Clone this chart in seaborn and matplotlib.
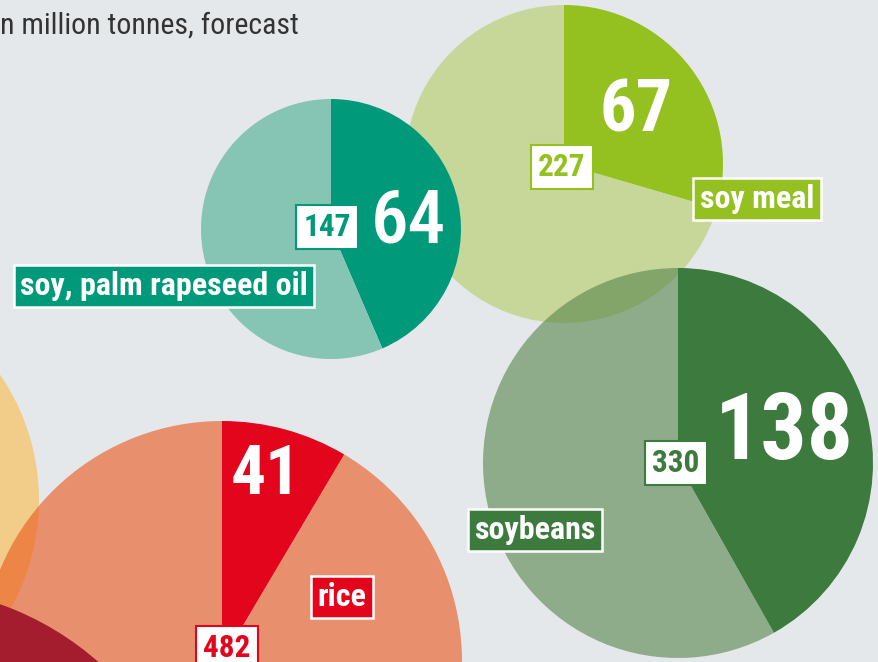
import matplotlib
matplotlib.use("Agg")
import matplotlib.pyplot as plt
import seaborn as sns

# ---- data ----
crops = ["soy meal", "soy, palm rapeseed oil", "soybeans", "rice"]
totals = [227, 147, 330, 482]
highlights = [67, 64, 138, 41]
title = "n million tonnes, forecast"

# ---- layout (image pixel coords, y down) ----
W, H = 879, 662
centers = [(564, 164), (331, 229), (678, 463), (222, 661)]
radii = [159, 130, 195, 240]
dark_cols = ["#94c11f", "#009a7b", "#3c7a3e", "#e3051b"]
light_cols = ["#b5cd64", "#86c4b4", "#56844a", "#eb551b"]
light_alpha = [0.6, 1.0, 0.6, 0.6]
pie_z = [4, 5, 6, 2]
# neighbouring circles only partly in view
side_centers = [(-182, 500), (-100, 887)]
side_radii = [221, 300]
side_cols = ["#f2cd8a", "#a31d2e"]
side_z = [1, 3]

# label positions
name_pos = [(757, 199), (164, 286), (535, 530), (342, 597)]
total_pos = [(562, 167), (327, 227), (676, 463), (227, 648)]
big_pos = [(636, 112), (408, 222), (784, 433), (266, 476)]
big_size = [52, 54, 66, 50]
big_weight = ["bold", "medium", "bold", "heavy"]

sns.set_theme(style="white")
fam = ["Roboto Condensed", "Liberation Sans Narrow", "Roboto", "DejaVu Sans"]
plt.rcParams["font.family"] = fam

fig = plt.figure(figsize=(W / 100, H / 100), dpi=100)
fig.patch.set_facecolor("#e4e8eb")
ax = fig.add_axes([0, 0, 1, 1])
ax.set_facecolor("#e4e8eb")


def yy(y):
    return H - y


for (cx, cy), r, c, z in zip(side_centers, side_radii, side_cols, side_z):
    w, *_ = ax.pie([1], center=(cx, yy(cy)), radius=r, colors=[c], frame=True,
                   wedgeprops=dict(linewidth=0))
    for p in w:
        p.set_zorder(z)

for i in range(len(crops)):
    cx, cy = centers[i]
    wedges, *_ = ax.pie([highlights[i], totals[i] - highlights[i]],
                        center=(cx, yy(cy)), radius=radii[i], startangle=90,
                        counterclock=False, colors=[dark_cols[i], light_cols[i]],
                        frame=True, wedgeprops=dict(linewidth=0))
    wedges[1].set_alpha(light_alpha[i])
    for p in wedges:
        p.set_zorder(pie_z[i])

for i in range(len(crops)):
    x, y = name_pos[i]
    ax.text(x, yy(y), crops[i], ha="center", va="center", fontsize=23,
            fontweight="bold", color="white", zorder=10,
            bbox=dict(boxstyle="square,pad=0.2", fc=dark_cols[i], ec="white", lw=1.8))
    x, y = total_pos[i]
    ax.text(x, yy(y), str(totals[i]), ha="center", va="center", fontsize=22.5,
            fontweight="bold", color=dark_cols[i], zorder=10,
            bbox=dict(boxstyle="square,pad=0.22", fc="white", ec=dark_cols[i], lw=1.5))
    x, y = big_pos[i]
    ax.text(x, yy(y), str(highlights[i]), ha="center", va="center",
            fontsize=big_size[i], fontweight=big_weight[i], color="white", zorder=10)

ax.text(0, yy(26), title, ha="left", va="center", fontsize=21.5, color="#333333", zorder=10)

ax.set_xlim(0, W)
ax.set_ylim(0, H)
ax.set_aspect("auto")
ax.axis("off")
fig.savefig("out.png", dpi=100, facecolor=fig.get_facecolor())
